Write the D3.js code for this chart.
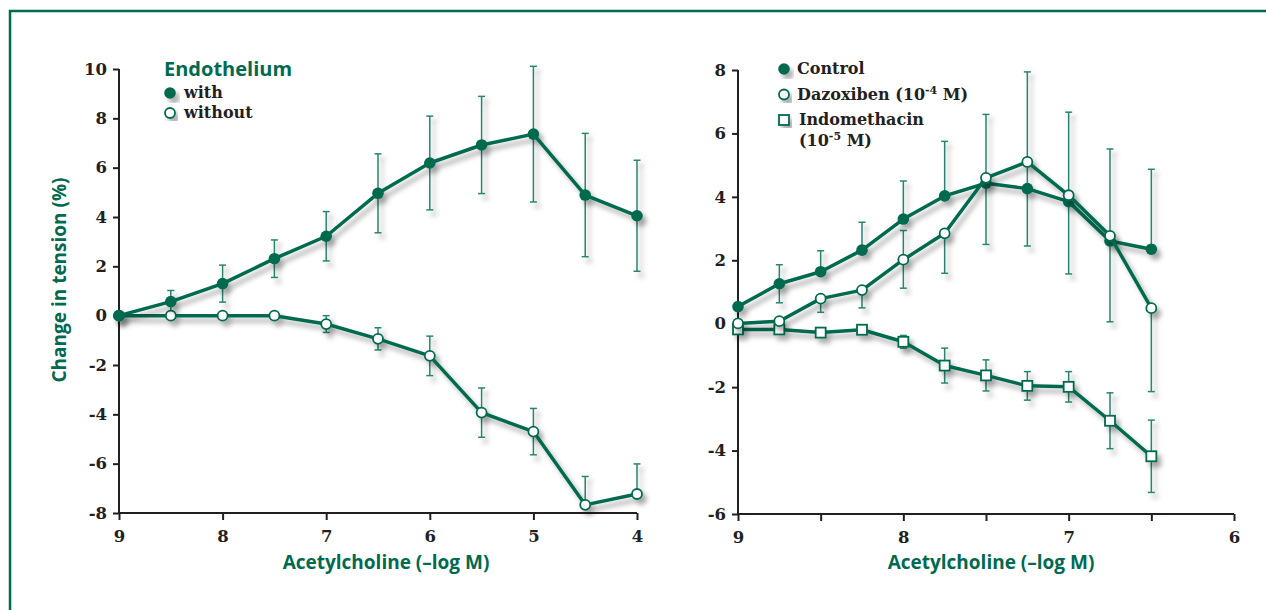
<!DOCTYPE html>
<html>
<head>
<meta charset="utf-8">
<script src="https://cdn.jsdelivr.net/npm/d3@7"></script>
<style>
    html, body { margin: 0; padding: 0; background: #fff; }
    svg { display: block; }
    .tick-label { font-family: "DejaVu Serif", serif; font-weight: bold; font-size: 16.5px; fill: #231f20; }
    .green-label { font-family: "Open Sans", sans-serif; font-weight: bold; font-size: 19px; fill: #006a50; }
    .legend-text { font-family: "DejaVu Serif", serif; font-weight: bold; font-size: 16px; fill: #231f20; }
</style>
</head>
<body>
<svg id="chart" width="1266" height="610"></svg>
<script>
// ---- left panel data: Endothelium with / without ----
const leftX = [9, 8.5, 8, 7.5, 7, 6.5, 6, 5.5, 5, 4.5, 4];
const withMean = [0, 0.57, 1.3, 2.31, 3.22, 4.96, 6.19, 6.92, 7.36, 4.89, 4.05];
const withErr = [0, 0.45, 0.75, 0.76, 1.0, 1.6, 1.9, 1.97, 2.75, 2.5, 2.25];
const withoutMean = [0, 0, 0, 0, -0.34, -0.94, -1.63, -3.93, -4.70, -7.67, -7.23];
const withoutErrUp = [0, 0, 0, 0, 0.34, 0.45, 0.8, 1.0, 0.94, 1.15, 1.22];
const withoutErrDown = [0, 0, 0, 0, 0.34, 0.45, 0.8, 1.0, 0.94, 0, 0];
const leftXTicks = [9, 8, 7, 6, 5, 4];
const leftYTicks = [10, 8, 6, 4, 2, 0, -2, -4, -6, -8];

// ---- right panel data: Control / Dazoxiben / Indomethacin ----
// where bars overlap only one side is drawn (upper for the higher series)
const rightX = [9, 8.75, 8.5, 8.25, 8, 7.75, 7.5, 7.25, 7, 6.75, 6.5];
const controlMean = [0.54, 1.26, 1.64, 2.32, 3.30, 4.03, 4.43, 4.26, 3.85, 2.61, 2.35];
const controlErrUp = [0, 0.6, 0.66, 0.88, 1.2, 1.72, 0, 0, 0, 0, 2.52];
const controlErrDown = [0, 0.6, 0, 0, 0, 0, 0, 0, 0, 0, 0];
const dazMean = [0.01, 0.08, 0.79, 1.06, 2.02, 2.85, 4.6, 5.1, 4.05, 2.77, 0.49];
const dazErrUp = [0, 0, 0, 0, 0.92, 0, 2.0, 2.84, 2.62, 2.74, 0];
const dazErrDown = [0, 0, 0.43, 0.56, 0.9, 1.26, 2.1, 2.65, 2.48, 2.71, 2.63];
const indoMean = [-0.18, -0.18, -0.28, -0.19, -0.57, -1.32, -1.63, -1.96, -1.99, -3.06, -4.18];
const indoErr = [0, 0, 0, 0, 0.2, 0.55, 0.49, 0.45, 0.48, 0.88, 1.14];
const rightXTicks = [9, 8.5, 8, 7.5, 7, 6.5, 6];
const rightXLabels = [9, 8, 7, 6];
const rightYTicks = [8, 6, 4, 2, 0, -2, -4, -6];

const GREEN = "#006a50";
const ERR = "#2a8570";
const AXIS = "#231f20";

const svg = d3.select("#chart");

const defs = svg.append("defs");
const filter = defs.append("filter")
    .attr("id", "shadow")
    .attr("x", "-20%").attr("y", "-20%")
    .attr("width", "150%").attr("height", "150%");
filter.append("feDropShadow")
    .attr("dx", 4).attr("dy", 5)
    .attr("stdDeviation", 2.5)
    .attr("flood-color", "#000")
    .attr("flood-opacity", 0.32);

// outer frame
svg.append("rect")
    .attr("x", 10).attr("y", 11)
    .attr("width", 1400).attr("height", 800)
    .attr("fill", "none")
    .attr("stroke", GREEN)
    .attr("stroke-width", 2.5);

function makeSeries(xs, means, up, down)
{
    return xs.map((x, i) => ({x, y: means[i], up: up[i], down: down[i]}));
}

function drawAxes(g, x, y, xTicks, xLabels, yTicks)
{
    const [x0, x1] = x.range();
    const [y0] = y.range();

    const xAxis = d3.axisBottom(x)
        .tickValues(xTicks)
        .tickSize(7)
        .tickPadding(6)
        .tickFormat(d => xLabels.includes(d) ? String(d) : "");
    const gx = g.append("g")
        .attr("transform", `translate(0,${y0})`)
        .call(xAxis);

    const yAxis = d3.axisLeft(y)
        .tickValues(yTicks)
        .tickSize(6)
        .tickPadding(6)
        .tickFormat(d => String(d));
    const gy = g.append("g")
        .attr("transform", `translate(${x0},0)`)
        .call(yAxis);

    [gx, gy].forEach(a => {
        a.select(".domain").attr("stroke", AXIS).attr("stroke-width", 2);
        a.selectAll(".tick line").attr("stroke", AXIS).attr("stroke-width", 2);
        a.selectAll(".tick text").attr("class", "tick-label").attr("fill", null);
    });
    // flat domain lines, no outer ticks
    gx.select(".domain").attr("d", `M${x0},0H${x1}`);
    gy.select(".domain").attr("d", `M0,${y.range()[0]}V${y.range()[1]}`);
    gx.selectAll(".tick text").attr("dy", "0.95em");
}

function drawErrorBars(g, data, x, y)
{
    const eg = g.append("g").attr("filter", "url(#shadow)");
    data.filter(d => d.up > 0 || d.down > 0).forEach(d => {
        const cx = x(d.x);
        const top = y(d.y + d.up);
        const bot = y(d.y - d.down);
        eg.append("line")
            .attr("x1", cx).attr("x2", cx)
            .attr("y1", top).attr("y2", bot)
            .attr("stroke", ERR).attr("stroke-width", 1.5);
        if (d.up > 0) {
            eg.append("line")
                .attr("x1", cx - 3.5).attr("x2", cx + 3.5)
                .attr("y1", top).attr("y2", top)
                .attr("stroke", ERR).attr("stroke-width", 1.5);
        }
        if (d.down > 0) {
            eg.append("line")
                .attr("x1", cx - 3.5).attr("x2", cx + 3.5)
                .attr("y1", bot).attr("y2", bot)
                .attr("stroke", ERR).attr("stroke-width", 1.5);
        }
    });
}

function drawMarker(g, type, cx, cy)
{
    if (type === "square") {
        g.append("rect")
            .attr("x", cx - 5).attr("y", cy - 5)
            .attr("width", 10).attr("height", 10)
            .attr("fill", "#fff")
            .attr("stroke", GREEN)
            .attr("stroke-width", 1.8);
    } else {
        g.append("circle")
            .attr("cx", cx).attr("cy", cy)
            .attr("r", type === "filled" ? 5.8 : 5)
            .attr("fill", type === "filled" ? GREEN : "#fff")
            .attr("stroke", GREEN)
            .attr("stroke-width", type === "filled" ? 0 : 1.8);
    }
}

function drawSeries(g, data, x, y, type)
{
    const sg = g.append("g").attr("filter", "url(#shadow)");
    const line = d3.line().x(d => x(d.x)).y(d => y(d.y));
    sg.append("path")
        .attr("d", line(data))
        .attr("fill", "none")
        .attr("stroke", GREEN)
        .attr("stroke-width", 3.5)
        .attr("stroke-linejoin", "round");
    data.forEach(d => drawMarker(sg, type, x(d.x), y(d.y)));
}

// ---------------- left panel ----------------
const xL = d3.scaleLinear().domain([9, 4]).range([119, 637]);
const yL = d3.scaleLinear().domain([-8, 10]).range([513, 69]);
const left = svg.append("g");
drawAxes(left, xL, yL, leftXTicks, leftXTicks, leftYTicks);

const withData = makeSeries(leftX, withMean, withErr, withErr);
const withoutData = makeSeries(leftX, withoutMean, withoutErrUp, withoutErrDown);
drawErrorBars(left, withData, xL, yL);
drawErrorBars(left, withoutData, xL, yL);
drawSeries(left, withoutData, xL, yL, "open");
drawSeries(left, withData, xL, yL, "filled");

left.append("text")
    .attr("class", "green-label")
    .attr("x", 386).attr("y", 569)
    .attr("text-anchor", "middle")
    .text("Acetylcholine (–log M)");

left.append("text")
    .attr("class", "green-label")
    .attr("transform", "translate(66,280) rotate(-90)")
    .attr("text-anchor", "middle")
    .text("Change in tension (%)");

const legL = left.append("g");
legL.append("text")
    .attr("class", "green-label")
    .attr("x", 164).attr("y", 76)
    .style("font-size", "20px")
    .text("Endothelium");
const legLItems = [{label: "with", type: "filled"}, {label: "without", type: "open"}];
legLItems.forEach((it, i) => {
    const cy = 93 + i * 20;
    const mg = legL.append("g").attr("filter", "url(#shadow)");
    drawMarker(mg, it.type, 170, cy);
    legL.append("text")
        .attr("class", "legend-text")
        .attr("x", 184).attr("y", cy + 5)
        .text(it.label);
});

// ---------------- right panel ----------------
const xR = d3.scaleLinear().domain([9, 6]).range([738, 1234]);
const yR = d3.scaleLinear().domain([-6, 8]).range([514, 70]);
const right = svg.append("g");
drawAxes(right, xR, yR, rightXTicks, rightXLabels, rightYTicks);

const controlData = makeSeries(rightX, controlMean, controlErrUp, controlErrDown);
const dazData = makeSeries(rightX, dazMean, dazErrUp, dazErrDown);
const indoData = makeSeries(rightX, indoMean, indoErr, indoErr);
drawErrorBars(right, controlData, xR, yR);
drawErrorBars(right, dazData, xR, yR);
drawErrorBars(right, indoData, xR, yR);
drawSeries(right, indoData, xR, yR, "square");
drawSeries(right, controlData, xR, yR, "filled");
drawSeries(right, dazData, xR, yR, "open");

right.append("text")
    .attr("class", "green-label")
    .attr("x", 991).attr("y", 569)
    .attr("text-anchor", "middle")
    .text("Acetylcholine (–log M)");

const legR = right.append("g");
const legRItems = [
    {type: "filled", lines: [["Control"]]},
    {type: "open", lines: [["Dazoxiben (10", "-4", " M)"]]},
    {type: "square", lines: [["Indomethacin"], ["(10", "-5", " M)"]]}
];
legRItems.forEach((it, i) => {
    const cy = 69 + i * 25.5;
    const mg = legR.append("g").attr("filter", "url(#shadow)");
    drawMarker(mg, it.type, 784, cy);
    it.lines.forEach((parts, j) => {
        const t = legR.append("text")
            .attr("class", "legend-text")
            .attr("x", it.type === "square" ? 799 : 797)
            .attr("y", cy + 5 + j * 21);
        parts.forEach((p, k) => {
            const ts = t.append("tspan").text(p);
            if (k === 1) ts.attr("dy", -6).style("font-size", "11px");
            if (k === 2) ts.attr("dy", 6);
        });
    });
});
</script>
</body>
</html>
